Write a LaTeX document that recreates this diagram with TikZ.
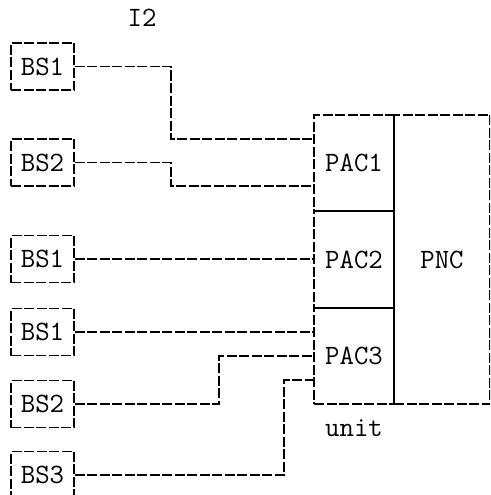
\documentclass[tikz,border=0pt]{standalone}
\usetikzlibrary{calc}
\begin{document}
\begin{tikzpicture}[x=1pt,y=-1pt,
  ln/.style={line width=1.6pt,dash pattern=on 10pt off 2.5pt},
  txt/.style={font=\ttfamily\fontsize{28}{32}\selectfont},
  bsbox/.style={draw,ln,txt,minimum width=63pt,minimum height=47pt,inner sep=0pt},
  pacbox/.style={draw,ln,txt,minimum width=80pt,inner sep=0pt},
  lbl/.style={txt,inner sep=0pt}]
\useasboundingbox (0,0) rectangle (490,495);
\begin{scope}
\clip (0,0) rectangle (490,495);
\node[lbl] (i2) at (142,18) {I2};
\node[bsbox] (b1) at (42.5,66.5) {BS1};
\node[bsbox] (b2) at (42.5,162.5) {BS2};
\node[bsbox] (b3) at (42.5,259) {BS1};
\node[bsbox] (b4) at (42.5,332) {BS1};
\node[bsbox] (b5) at (42.5,404) {BS2};
\node[bsbox] (b6) at (42.5,475) {BS3};
\node[pacbox,minimum height=96pt] (p1) at (354,163) {PAC1};
\node[pacbox,minimum height=97pt] (p2) at (354,259.5) {PAC2};
\node[pacbox,minimum height=96pt] (p3) at (354,356) {PAC3};
\node[draw,ln,txt,minimum width=96pt,minimum height=289pt,inner sep=0pt] (pnc) at (442,259.5) {PNC};
\node[lbl] (unit) at (354,428) {unit};
\coordinate (c1) at (p1.west |- 0,139);
\coordinate (c2) at (p1.west |- 0,186);
\coordinate (c4) at (p3.west |- 0,332);
\coordinate (c5) at (p3.west |- 0,356);
\coordinate (c6) at (p3.west |- 0,380);
\draw[ln] (b1.east) -- ++(96,0) |- (c1);
\draw[ln] (b2.east) -- ++(96,0) |- (c2);
\draw[ln] (b3.east) -- (b3.east -| p2.west);
\draw[ln] (b4.east) -- (c4);
\draw[ln] (b5.east) -- ++(144,0) |- (c5);
\draw[ln] (b6.east) -- ++(209,0) |- (c6);
\end{scope}
\end{tikzpicture}
\end{document}
